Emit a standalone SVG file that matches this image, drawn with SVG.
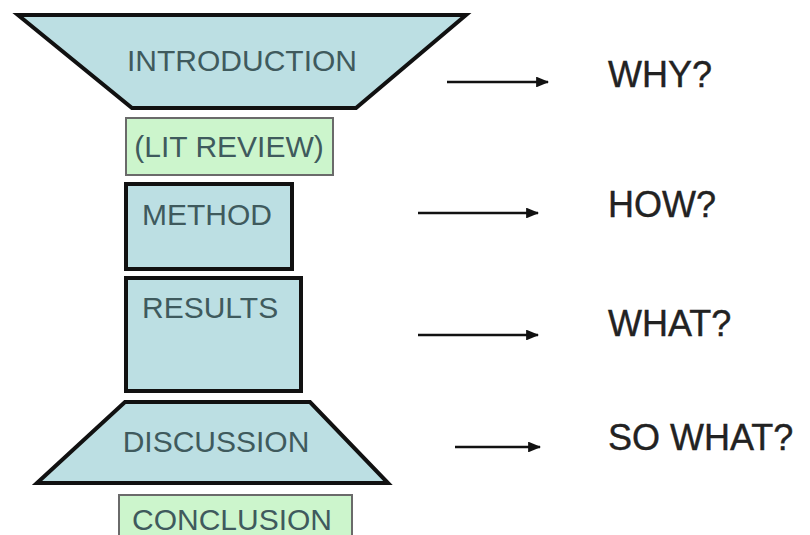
<svg xmlns="http://www.w3.org/2000/svg" width="810" height="535" viewBox="0 0 810 535">
<style>
.blue{fill:#bcdfe3;stroke:#111;stroke-width:4;stroke-linejoin:miter}
.green{fill:#ccf5cc;stroke:#6a6a6a;stroke-width:2}
.lbl{font-family:"Liberation Sans",Arial,sans-serif;font-size:30px;fill:#3f5a5d}
.q{font-family:"Liberation Sans",Arial,sans-serif;font-size:36px;fill:#222;stroke:#222;stroke-width:0.4}
.arr{stroke:#111;stroke-width:2.4;fill:none;marker-end:url(#ah)}
</style>
<defs>
<marker id="ah" viewBox="0 0 12 10" refX="11" refY="5" markerWidth="5.5" markerHeight="4.5" orient="auto" markerUnits="strokeWidth">
<path d="M0,0 L12,5 L0,10 z" fill="#111"/>
</marker>
</defs>
<rect width="810" height="535" fill="#fff"/>
<g id="introduction">
<polygon class="blue" points="18,15 466,15 356,108 132,108"/>
<text class="lbl" x="242" y="71" text-anchor="middle" font-size="31">INTRODUCTION</text>
</g>
<g id="litreview">
<rect class="green" x="126" y="118" width="207" height="57"/>
<text class="lbl" x="229" y="157" text-anchor="middle" font-size="29">(LIT REVIEW)</text>
</g>
<g id="method">
<rect class="blue" x="126" y="184" width="166" height="85"/>
<text class="lbl" x="142" y="225">METHOD</text>
</g>
<g id="results">
<rect class="blue" x="126" y="278" width="175" height="113"/>
<text class="lbl" x="142" y="318">RESULTS</text>
</g>
<g id="discussion">
<polygon class="blue" points="125,402 310,402 388,483 37,483"/>
<text class="lbl" x="216" y="452" text-anchor="middle">DISCUSSION</text>
</g>
<g id="conclusion">
<rect class="green" x="119" y="495" width="233" height="50"/>
<text class="lbl" x="232" y="530" text-anchor="middle">CONCLUSION</text>
</g>
<g id="connectors">
<line class="arr" x1="447" y1="82" x2="548" y2="82"/>
<line class="arr" x1="418" y1="213" x2="538" y2="213"/>
<line class="arr" x1="418" y1="335" x2="538" y2="335"/>
<line class="arr" x1="455" y1="447" x2="540" y2="447"/>
</g>
<g id="questions">
<text class="q" x="608" y="87">WHY?</text>
<text class="q" x="608" y="217">HOW?</text>
<text class="q" x="608" y="336">WHAT?</text>
<text class="q" x="608" y="450">SO WHAT?</text>
</g>
</svg>
